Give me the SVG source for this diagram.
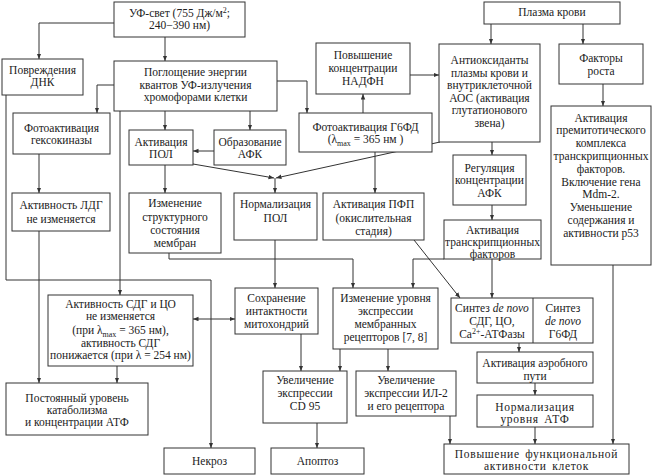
<svg xmlns="http://www.w3.org/2000/svg" width="653" height="475" viewBox="0 0 653 475">
<style>
.b{fill:#fff;stroke:#333;stroke-width:1}
.c{fill:none;stroke:#333;stroke-width:1}
.t{font-family:"Liberation Serif","DejaVu Serif",serif;font-size:11.5px;text-anchor:middle;fill:#222}
.i{font-style:italic}
.w{letter-spacing:0.7px;word-spacing:2px}
</style>
<defs>
<marker id="a" markerUnits="userSpaceOnUse" markerWidth="6" markerHeight="5" refX="5.5" refY="2.25" orient="auto-start-reverse">
<path d="M0,0 L5.5,2.25 L0,4.5 z" fill="#333"/>
</marker>
</defs>
<rect width="653" height="475" fill="#fff"/>
<g id="connectors">
<path class="c" marker-end="url(#a)" d="M114,23 H39 V59"/>
<path class="c" marker-end="url(#a)" d="M165,37 V61"/>
<path class="c" marker-end="url(#a)" d="M114,85 H97 V113"/>
<path class="c" marker-end="url(#a)" d="M165,111 V130"/>
<path class="c" marker-end="url(#a)" d="M250,111 V130"/>
<path class="c" marker-end="url(#a)" d="M277,81 H307 V113"/>
<path class="c" marker-end="url(#a)" d="M120,111 V295"/>
<path class="c" marker-end="url(#a)" d="M6,95 V280 H211 V448"/>
<path class="c" marker-end="url(#a)" d="M39,154 V193"/>
<path class="c" marker-end="url(#a)" d="M39,231 V383"/>
<path class="c" marker-end="url(#a)" d="M117,366 V383"/>
<path class="c" marker-end="url(#a)" d="M165,165 V193"/>
<path class="c" marker-end="url(#a)" d="M214,151 H193"/>
<path class="c" marker-end="url(#a)" d="M193,164 L274,178"/>
<path class="c" marker-end="url(#a)" d="M440,142 L276,178"/>
<path class="c" marker-end="url(#a)" d="M275,178 V193"/>
<path class="c" marker-end="url(#a)" d="M169,253 V259 H353 V288"/>
<path class="c" marker-end="url(#a)" d="M275,240 V288"/>
<path class="c" marker-end="url(#a)" d="M414,240 L460,298"/>
<path class="c" marker-end="url(#a)" d="M444,259 H413 V288"/>
<path class="c" marker-end="url(#a)" d="M492,259 V298"/>
<path class="c" marker-end="url(#a)" d="M492,205 V220"/>
<path class="c" marker-end="url(#a)" d="M492,142 V155"/>
<path class="c" marker-end="url(#a)" d="M491,24 V44"/>
<path class="c" marker-end="url(#a)" d="M583,24 V44"/>
<path class="c" marker-end="url(#a)" d="M603,84 V106"/>
<path class="c" marker-end="url(#a)" d="M613,265 V444"/>
<path class="c" marker-end="url(#a)" d="M410,75 H439"/>
<path class="c" marker-end="url(#a)" d="M363,113 V94"/>
<path class="c" marker-end="url(#a)" d="M375,152 V193"/>
<path class="c" marker-end="url(#a)" d="M519,343 V352"/>
<path class="c" marker-end="url(#a)" d="M535,383 V395"/>
<path class="c" marker-end="url(#a)" d="M535,427 V444"/>
<path class="c" marker-end="url(#a)" d="M450,416 V444"/>
<path class="c" marker-end="url(#a)" d="M301,334 V371"/>
<path class="c" marker-end="url(#a)" d="M340,349 V371"/>
<path class="c" marker-end="url(#a)" d="M388,349 V371"/>
<path class="c" marker-end="url(#a)" d="M317,423 V448"/>
<path class="c" marker-start="url(#a)" marker-end="url(#a)" d="M193,319 H235"/>
</g>
<g id="n-uv"><rect class="b" x="114" y="2" width="131" height="35"/>
<text class="t" x="179.5" y="17">УФ-свет (755 Дж/м<tspan font-size="8" dy="-4">2</tspan><tspan dy="4">;</tspan></text>
<text class="t" x="179.5" y="29">240−390 нм)</text></g>
<g id="n-dna"><rect class="b" x="2" y="59" width="81" height="36"/>
<text class="t" x="42.5" y="74">Повреждения</text><text class="t" x="42.5" y="86">ДНК</text></g>
<g id="n-absorb"><rect class="b" x="114" y="61" width="163" height="50"/>
<text class="t" x="195.5" y="76">Поглощение энергии</text><text class="t" x="195.5" y="88.5">квантов УФ-излучения</text><text class="t" x="195.5" y="101">хромофорами клетки</text></g>
<g id="n-hk"><rect class="b" x="13" y="113" width="97" height="41"/>
<text class="t" x="61.5" y="132">Фотоактивация</text><text class="t" x="61.5" y="144">гексокиназы</text></g>
<g id="n-pol"><rect class="b" x="129" y="130" width="64" height="35"/>
<text class="t" x="161" y="146">Активация</text><text class="t" x="161" y="158">ПОЛ</text></g>
<g id="n-afk"><rect class="b" x="214" y="130" width="72" height="35"/>
<text class="t" x="250" y="146">Образование</text><text class="t" x="250" y="158">АФК</text></g>
<g id="n-nadph"><rect class="b" x="316" y="43" width="94" height="51"/>
<text class="t" x="363" y="59">Повышение</text><text class="t" x="363" y="72">концентрации</text><text class="t" x="363" y="85">НАДФН</text></g>
<g id="n-g6pd"><rect class="b" x="299" y="113" width="133" height="39"/>
<text class="t" x="365.5" y="131">Фотоактивация Г6ФД</text>
<text class="t" x="365.5" y="143">(λ<tspan font-size="8" dy="2.5">max</tspan><tspan dy="-2.5"> = 365 нм )</tspan></text></g>
<g id="n-plasma"><rect class="b" x="484" y="2" width="136" height="22"/>
<text class="t" x="552" y="16">Плазма крови</text></g>
<g id="n-aox"><rect class="b" x="439" y="44" width="101" height="98"/>
<text class="t" x="489.5" y="64">Антиоксиданты</text><text class="t" x="489.5" y="76.5">плазмы крови и</text><text class="t" x="489.5" y="89">внутриклеточной</text><text class="t" x="489.5" y="101.5">АОС (активация</text><text class="t" x="489.5" y="114">глутатионового</text><text class="t" x="489.5" y="126.5">звена)</text></g>
<g id="n-growth"><rect class="b" x="559" y="44" width="84" height="40"/>
<text class="t" x="601" y="62">Факторы</text><text class="t" x="601" y="75">роста</text></g>
<g id="n-premit"><rect class="b" x="551" y="106" width="100" height="159"/>
<text class="t" x="601" y="121.5">Активация</text><text class="t" x="601" y="134.3">премитотического</text><text class="t" x="601" y="147.1">комплекса</text><text class="t" x="601" y="159.9">транскрипционных</text><text class="t" x="601" y="172.7">факторов.</text><text class="t" x="601" y="185.5">Включение гена</text><text class="t" x="601" y="198.3">Mdm-2.</text><text class="t" x="601" y="211.1">Уменьшение</text><text class="t" x="601" y="223.9">содержания и</text><text class="t" x="601" y="236.7">активности p53</text></g>
<g id="n-reg"><rect class="b" x="453" y="155" width="73" height="50"/>
<text class="t" x="489.5" y="171.5">Регуляция</text><text class="t" x="489.5" y="184">концентрации</text><text class="t" x="489.5" y="196.5">АФК</text></g>
<g id="n-tf"><rect class="b" x="444" y="220" width="97" height="39"/>
<text class="t" x="492.5" y="234">Активация</text><text class="t" x="492.5" y="246">транскрипционных</text><text class="t" x="492.5" y="257.5">факторов</text></g>
<g id="n-ldh"><rect class="b" x="12" y="193" width="98" height="38"/>
<text class="t" x="61" y="209">Активность ЛДГ</text><text class="t" x="61" y="223">не изменяется</text></g>
<g id="n-memb"><rect class="b" x="129" y="193" width="92" height="60"/>
<text class="t" x="175" y="207">Изменение</text><text class="t" x="175" y="220.5">структурного</text><text class="t" x="175" y="234">состояния</text><text class="t" x="175" y="247">мембран</text></g>
<g id="n-normpol"><rect class="b" x="234" y="193" width="83" height="47"/>
<text class="t" x="275.5" y="208">Нормализация</text><text class="t" x="275.5" y="222">ПОЛ</text></g>
<g id="n-pfp"><rect class="b" x="323" y="193" width="101" height="47"/>
<text class="t" x="373.5" y="208">Активация ПФП</text><text class="t" x="373.5" y="222">(окислительная</text><text class="t" x="373.5" y="235">стадия)</text></g>
<g id="n-sdh"><rect class="b" x="48" y="295" width="145" height="71"/>
<text class="t" x="120.5" y="308">Активность СДГ и ЦО</text><text class="t" x="120.5" y="320">не изменяется</text>
<text class="t" x="120.5" y="334">(при λ<tspan font-size="8" dy="2.5">max</tspan><tspan dy="-2.5"> = 365 нм),</tspan></text>
<text class="t" x="120.5" y="347">активность СДГ</text><text class="t" x="120.5" y="359">понижается (при λ = 254 нм)</text></g>
<g id="n-mito"><rect class="b" x="235" y="288" width="83" height="46"/>
<text class="t" x="276.5" y="302">Сохранение</text><text class="t" x="276.5" y="315">интактности</text><text class="t" x="276.5" y="328">митохондрий</text></g>
<g id="n-recept"><rect class="b" x="333" y="288" width="105" height="61"/>
<text class="t" x="385.5" y="302">Изменение уровня</text><text class="t" x="385.5" y="315">экспрессии</text><text class="t" x="385.5" y="328">мембранных</text><text class="t" x="385.5" y="340.5">рецепторов [7, 8]</text></g>
<g id="n-synth"><rect class="b" x="451" y="298" width="142" height="45"/><line class="c" x1="533" y1="298" x2="533" y2="343"/>
<text class="t" x="492" y="312">Синтез <tspan class="i">de novo</tspan></text><text class="t" x="492" y="325">СДГ, ЦО,</text>
<text class="t" x="492" y="337.5">Ca<tspan font-size="8" dy="-4">2+</tspan><tspan dy="4">-АТФазы</tspan></text>
<text class="t" x="563" y="312">Синтез</text><text class="t i" x="563" y="325">de novo</text><text class="t" x="563" y="337.5">Г6ФД</text></g>
<g id="n-aer"><rect class="b" x="477" y="352" width="116" height="31"/>
<text class="t" x="535" y="367">Активация аэробного</text><text class="t" x="535" y="380">пути</text></g>
<g id="n-atp"><rect class="b" x="477" y="395" width="116" height="32"/>
<text class="t w" x="535" y="410.5">Нормализация</text><text class="t w" x="535" y="423">уровня АТФ</text></g>
<g id="n-func"><rect class="b" x="444" y="444" width="185" height="30"/>
<text class="t w" x="536.5" y="458">Повышение функциональной</text><text class="t w" x="536.5" y="470">активности клеток</text></g>
<g id="n-catab"><rect class="b" x="6" y="383" width="142" height="52"/>
<text class="t" x="77" y="402">Постоянный уровень</text><text class="t" x="77" y="414">катаболизма</text><text class="t" x="77" y="426">и концентрации АТФ</text></g>
<g id="n-necr"><rect class="b" x="164" y="448" width="91" height="26"/>
<text class="t" x="209.5" y="465">Некроз</text></g>
<g id="n-apop"><rect class="b" x="271" y="448" width="93" height="26"/>
<text class="t" x="317.5" y="465">Апоптоз</text></g>
<g id="n-cd95"><rect class="b" x="263" y="371" width="84" height="52"/>
<text class="t" x="305" y="384">Увеличение</text><text class="t" x="305" y="397">экспрессии</text><text class="t" x="305" y="410">CD 95</text></g>
<g id="n-il2"><rect class="b" x="356" y="371" width="100" height="45"/>
<text class="t" x="406" y="384">Увеличение</text><text class="t" x="406" y="397">экспрессии ИЛ-2</text><text class="t" x="406" y="410">и его рецептора</text></g>
</svg>
